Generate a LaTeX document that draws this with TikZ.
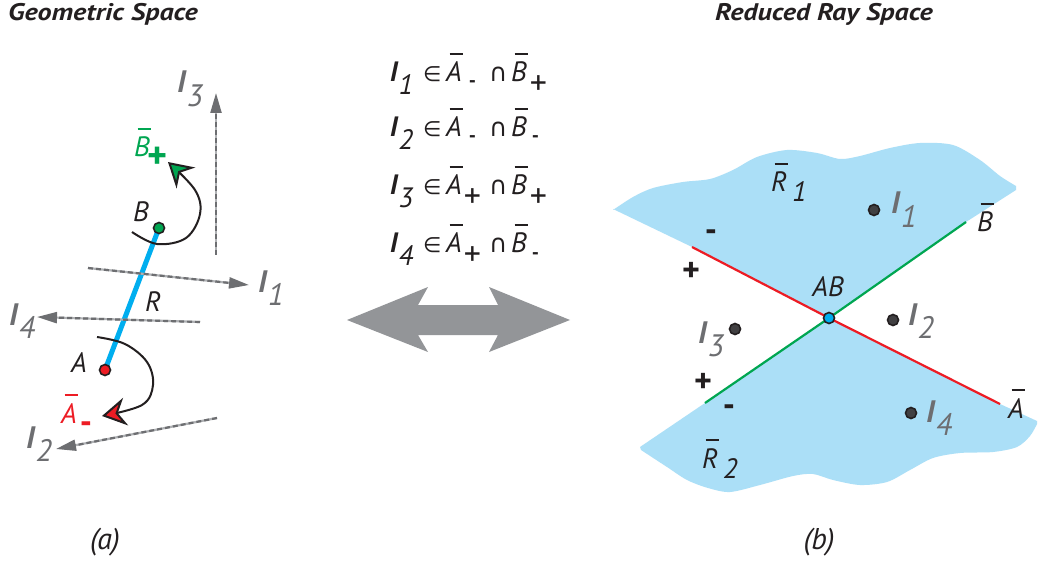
\documentclass[tikz,border=0pt]{standalone}
\usepackage{fontspec}
\setmainfont{PT Sans}
\newfontfamily\titlefont[FakeStretch=1.17]{PT Sans}
\newfontfamily\symfont{DejaVu Sans}
\usetikzlibrary{arrows.meta}
\definecolor{myred}{RGB}{237,28,36}
\definecolor{mygreen}{RGB}{0,166,81}
\definecolor{mycyan}{RGB}{0,174,239}
\definecolor{myblue}{RGB}{171,223,247}
\definecolor{rayd}{RGB}{109,110,113}
\definecolor{rayl}{RGB}{175,177,180}
\definecolor{txt}{RGB}{35,31,32}
\definecolor{arrowgray}{RGB}{147,149,152}
\definecolor{dotgray}{RGB}{65,64,66}
\newcommand\obar[2][0.12em]{\rlap{\kern#1\rule[0.95em]{0.48em}{0.075em}}#2}
\newcommand\Ilab[1]{{\bfseries\itshape I}\kern1pt\raisebox{-0.45em}{\itshape #1}}
\newcommand\subm{\raisebox{-6pt}{\fontsize{20}{20}\selectfont\upshape\bfseries -}}
\newcommand\subp{\raisebox{-13pt}{\fontsize{34}{34}\selectfont\upshape +}}
\newcommand\esym{\makebox[24pt][c]{\symfont\fontsize{21}{21}\selectfont ∈}}
\newcommand\csym{\makebox[18pt][c]{\symfont\fontsize{25}{25}\selectfont ∩}}
\begin{document}
\begin{tikzpicture}[x=1pt,y=-1pt,
  title/.style={font=\fontsize{24}{26}\selectfont\titlefont\bfseries\itshape, text=txt, inner sep=0pt, anchor=base west},
  lbl/.style={text=txt, font=\fontsize{28}{30}\selectfont\itshape, inner sep=0pt},
  ilbl/.style={text=rayd, font=\fontsize{31}{32}\selectfont, inner sep=0pt, anchor=base west},
  eq/.style={text=txt, font=\fontsize{28}{30}\selectfont\itshape, inner sep=0pt, anchor=base west},
  capt/.style={text=txt, font=\fontsize{30}{32}\selectfont\itshape, inner sep=0pt},
  sgn/.style={text=txt, font=\fontsize{34}{34}\selectfont\bfseries, inner sep=0pt, anchor=base},
  ptn/.style={circle, draw=txt, line width=1.6pt, minimum size=11pt, inner sep=0pt},
  raybase/.style={draw=rayl, line width=2.2pt, shorten >=12pt},
  ray/.style={draw=rayd, line width=2.2pt, dash pattern=on 5pt off 3pt, -{Triangle[length=20pt,width=11pt]}},
  arcline/.style={draw=txt, line width=2pt},
  segline/.style={draw=mycyan, line width=5pt},
]
\fill[white] (0,0) rectangle (1038,561);
\useasboundingbox (0,0) rectangle (1038,561);

% titles
\node[title] (t1) at (8,21) {Geometric Space};
\node[title] (t2) at (715,21) {Reduced Ray Space};

% ---------- left panel ----------
\coordinate (Bc) at (159,228);
\coordinate (Ac) at (105,370);
\draw[segline] (Ac) -- (Bc);

\coordinate (r3a) at (216,255); \coordinate (r3b) at (216,93);
\coordinate (r1a) at (88,268);  \coordinate (r1b) at (249,285);
\coordinate (r4a) at (200,322); \coordinate (r4b) at (37,317);
\coordinate (r2a) at (217,418); \coordinate (r2b) at (56,449);
\foreach \s/\e in {r3a/r3b, r1a/r1b, r4a/r4b, r2a/r2b}{
  \draw[raybase] (\s) -- (\e);
  \draw[ray] (\s) -- (\e);
}

\draw[arcline, -{Stealth[length=24pt,width=28pt,inset=8pt,fill=mygreen]}]
  plot[smooth, tension=0.6] coordinates {(132,232) (157,244) (186,238) (200,214) (195,190) (168,162)};
\draw[arcline, -{Stealth[length=24pt,width=28pt,inset=8pt,fill=myred]}]
  plot[smooth, tension=0.6] coordinates {(97,337) (125,344) (147,362) (153,385) (142,405) (102,416)};

\node[ptn, fill=mygreen] (B) at (Bc) {};
\node[ptn, fill=myred] (A) at (Ac) {};

\node[lbl] (lB) at (141,212) {B};
\node[lbl] (lA) at (79,363) {A};
\node[lbl] (lR) at (153,302) {R};
\node[lbl, text=mygreen, anchor=base west] (lBp) at (134,157) {\obar{B}\kern-2pt\raisebox{-12pt}{\fontsize{38}{38}\selectfont\upshape\bfseries +}};
\node[lbl, text=myred, anchor=base west] (lAm) at (61,423) {\obar{A}\kern3pt\raisebox{-10pt}{\fontsize{34}{34}\selectfont\upshape\bfseries -}};

\node[ilbl] (lI3) at (177,93) {\Ilab{3}};
\node[ilbl] (lI1) at (258,292) {\Ilab{1}};
\node[ilbl] (lI4) at (9,325) {\Ilab{4}};
\node[ilbl] (lI2) at (26,448) {\Ilab{2}};

\node[capt] (ca) at (105,542) {(a)};

% ---------- middle ----------
\node[eq] (eq1) at (383,82) {\makebox[37pt][r]{\Ilab{1}\kern7pt}\esym\makebox[45pt][l]{\kern2pt\obar{A}\kern7pt\subm}\csym\kern4pt\obar{B}\kern3pt\subp};
\node[eq] (eq2) at (383,137) {\makebox[37pt][r]{\Ilab{2}\kern7pt}\esym\makebox[45pt][l]{\kern2pt\obar{A}\kern7pt\subm}\csym\kern4pt\obar{B}\kern5pt\subm};
\node[eq] (eq3) at (383,195) {\makebox[37pt][r]{\Ilab{3}\kern7pt}\esym\makebox[45pt][l]{\kern2pt\obar{A}\kern2pt\subp}\csym\kern4pt\obar{B}\kern3pt\subp};
\node[eq] (eq4) at (383,253) {\makebox[37pt][r]{\Ilab{4}\kern7pt}\esym\makebox[45pt][l]{\kern2pt\obar{A}\kern2pt\subp}\csym\kern4pt\obar{B}\kern5pt\subm};

\fill[arrowgray] (347,320) -- (428,287) -- (418,305) -- (498,305) -- (489,287) -- (570,320)
  -- (489,352) -- (498,335) -- (418,335) -- (428,352) -- cycle;

% ---------- right panel ----------
\fill[myblue] (692,247) -- (613,209) -- plot[smooth] coordinates {(613,210) (633,197) (653,188) (683,182) (710,179) (733,170) (757,157) (787,150) (817,153) (840,159) (860,156) (890,148) (920,143) (953,145) (980,160) (1000,176) (1016,186)}
  -- (1016,190) -- (966,222) -- (829,318) -- cycle;
\fill[myblue] (705,403) -- (640,447) -- plot[smooth] coordinates {(641,450) (667,467) (687,480) (708,488) (730,492) (760,485) (793,476) (813,474) (833,480) (860,485) (887,482) (910,470) (933,458) (960,453) (993,452) (1017,447) (1030,436) (1037,424)}
  -- (1037,421) -- (1000,404) -- (829,318) -- cycle;

\coordinate (ABc) at (829,318);
\coordinate (a1) at (692,247); \coordinate (a2) at (1000,404);
\coordinate (b1) at (705,403); \coordinate (b2) at (966,222);
\draw[myred, line width=2.2pt] (a1) -- (ABc) -- (a2);
\draw[mygreen, line width=2.2pt] (b1) -- (ABc) -- (b2);
\node[ptn, fill=mycyan] (AB) at (ABc) {};
\node[ptn, fill=dotgray] (d1) at (874,210) {};
\node[ptn, fill=dotgray] (d2) at (893,320) {};
\node[ptn, fill=dotgray] (d3) at (735,329) {};
\node[ptn, fill=dotgray] (d4) at (911,413) {};

\node[lbl] (lAB) at (828,287) {AB};
\node[ilbl] (rI1) at (891,214) {\Ilab{1}};
\node[ilbl] (rI2) at (908,325) {\Ilab{2}};
\node[ilbl] (rI3) at (698,343) {\Ilab{3}};
\node[ilbl] (rI4) at (926,422) {\Ilab{4}};
\node[lbl, anchor=base west] (lBb) at (977,232) {\obar{B}};
\node[lbl, anchor=base west] (lAb) at (1008,418) {\obar{A}};
\node[lbl, anchor=base west] (lR1) at (771,192) {\obar{R}\kern5pt\raisebox{-10pt}{1}};
\node[lbl, anchor=base west] (lR2) at (702,468) {\obar{R}\kern5pt\raisebox{-10pt}{2}};

\node[sgn] (s1) at (711,242) {-};
\node[sgn] (s2) at (691,281) {+};
\node[sgn] (s3) at (703,392) {+};
\node[sgn] (s4) at (729,416) {-};

\node[capt] (cb) at (819,542) {(b)};
\end{tikzpicture}
\end{document}
